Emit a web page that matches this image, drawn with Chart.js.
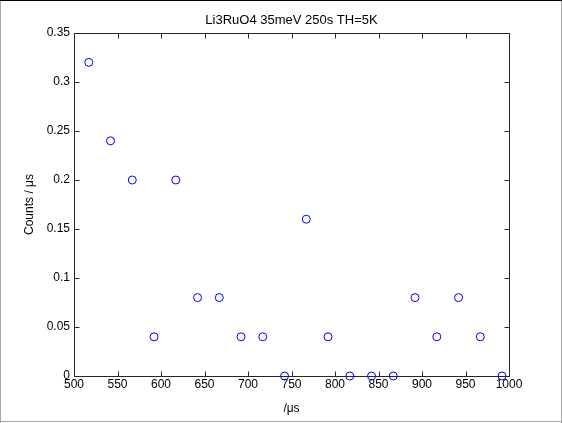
<!DOCTYPE html>
<html>
<head>
<meta charset="utf-8">
<script src="https://cdn.jsdelivr.net/npm/chart.js@4/dist/chart.umd.min.js"></script>
<style>
  html, body { margin: 0; padding: 0; background: #ffffff; }
  #wrap { position: absolute; left: 0; top: 0; width: 562px; height: 423px; }
</style>
</head>
<body>
<div id="wrap"><canvas id="c" width="562" height="423"></canvas></div>
<script>
// ---- data ----
const chartTitle = 'Li3RuO4 35meV 250s TH=5K';
const xAxisTitle = '/\u03bcs';
const yAxisTitle = 'Counts / \u03bcs';
const timeValues = [517, 542, 567, 592, 617, 642, 667, 692, 717, 742,
                    767, 792, 817, 842, 867, 892, 917, 942, 967, 992];
const countValues = [0.32, 0.24, 0.20, 0.04, 0.20, 0.08, 0.08, 0.04, 0.04, 0.00,
                     0.16, 0.04, 0.00, 0.00, 0.00, 0.08, 0.04, 0.08, 0.04, 0.00];
const xTickLabels = ['500', '550', '600', '650', '700', '750', '800', '850', '900', '950', '1000'];
const yTickLabels = ['0', '0.05', '0.1', '0.15', '0.2', '0.25', '0.3', '0.35'];

const FONT = "Arial, 'Liberation Sans', Helvetica, sans-serif";
const points = timeValues.map((t, i) => ({ x: t, y: countValues[i] }));

const framePlugin = {
  id: 'matlabFrame',
  beforeDraw(chart) {
    const ctx = chart.ctx, W = chart.width, H = chart.height;
    ctx.save();
    ctx.fillStyle = '#ffffff';
    ctx.fillRect(0, 0, W, H);
    ctx.lineWidth = 1;
    ctx.strokeStyle = '#a8a8a8';
    ctx.beginPath();
    ctx.moveTo(0.5, 0); ctx.lineTo(0.5, H);
    ctx.moveTo(W - 0.5, 0); ctx.lineTo(W - 0.5, H);
    ctx.moveTo(0, H - 1.5); ctx.lineTo(W, H - 1.5);
    ctx.stroke();
    ctx.strokeStyle = '#000000';
    ctx.beginPath();
    ctx.moveTo(0, 0.5); ctx.lineTo(W, 0.5);
    ctx.stroke();
    ctx.restore();
  },
  afterDatasetsDraw(chart) {
    const ctx = chart.ctx, a = chart.chartArea;
    const xs = chart.scales.x, ys = chart.scales.y;
    const L = Math.round(a.left) + 0.5, R = Math.round(a.right) + 0.5;
    const T = Math.round(a.top) + 0.5, B = Math.round(a.bottom) + 0.5;
    const len = 5;
    ctx.save();
    ctx.strokeStyle = '#262626';
    ctx.lineWidth = 1;
    ctx.beginPath();
    ctx.rect(L, T, R - L, B - T);
    xs.ticks.forEach(t => {
      const px = Math.round(xs.getPixelForValue(t.value)) + 0.5;
      ctx.moveTo(px, B); ctx.lineTo(px, B - len);
      ctx.moveTo(px, T); ctx.lineTo(px, T + len);
    });
    ys.ticks.forEach(t => {
      const py = Math.round(ys.getPixelForValue(t.value)) + 0.5;
      ctx.moveTo(L, py); ctx.lineTo(L + len, py);
      ctx.moveTo(R, py); ctx.lineTo(R - len, py);
    });
    ctx.stroke();
    ctx.restore();
  }
};

new Chart(document.getElementById('c'), {
  type: 'scatter',
  data: {
    datasets: [{
      data: points,
      showLine: false,
      pointStyle: 'circle',
      pointRadius: 4,
      pointHoverRadius: 4,
      pointBorderWidth: 1,
      borderColor: '#0000ff',
      backgroundColor: 'rgba(0,0,0,0)',
      clip: false
    }]
  },
  options: {
    responsive: false,
    animation: false,
    devicePixelRatio: 1,
    events: [],
    layout: { padding: { left: 21, right: 0, top: 0, bottom: 0 } },
    plugins: {
      legend: { display: false },
      tooltip: { enabled: false },
      title: {
        display: true,
        text: chartTitle,
        color: '#000000',
        font: { family: FONT, size: 13, weight: 'normal' },
        padding: { top: 13, bottom: 4.4 }
      }
    },
    scales: {
      x: {
        type: 'linear',
        min: 500, max: 1000,
        grid: { display: false, drawTicks: false },
        border: { display: false },
        ticks: {
          stepSize: 50,
          padding: 1,
          maxRotation: 0,
          autoSkip: false,
          color: '#000000',
          font: { family: FONT, size: 12 },
          callback: (v, i) => xTickLabels[i]
        },
        title: {
          display: true,
          text: xAxisTitle,
          color: '#000000',
          font: { family: FONT, size: 12 },
          padding: { top: 0, bottom: 7 }
        },
        afterFit: s => { s.height = 47; }
      },
      y: {
        type: 'linear',
        position: 'left',
        min: 0, max: 0.35,
        grid: { display: false, drawTicks: false },
        border: { display: false },
        ticks: {
          stepSize: 0.05,
          padding: 4,
          autoSkip: false,
          color: '#000000',
          font: { family: FONT, size: 12 },
          callback: (v, i) => yTickLabels[i]
        },
        title: {
          display: true,
          text: yAxisTitle,
          color: '#000000',
          font: { family: FONT, size: 12 },
          padding: { top: 1, bottom: 0 }
        },
        afterFit: s => { s.width = 53; }
      },
      yRight: {
        type: 'linear',
        position: 'right',
        min: 0, max: 0.35,
        grid: { display: false, drawTicks: false },
        border: { display: false },
        ticks: { display: false },
        afterFit: s => { s.width = 53; }
      }
    }
  },
  plugins: [framePlugin]
});
</script>
</body>
</html>
